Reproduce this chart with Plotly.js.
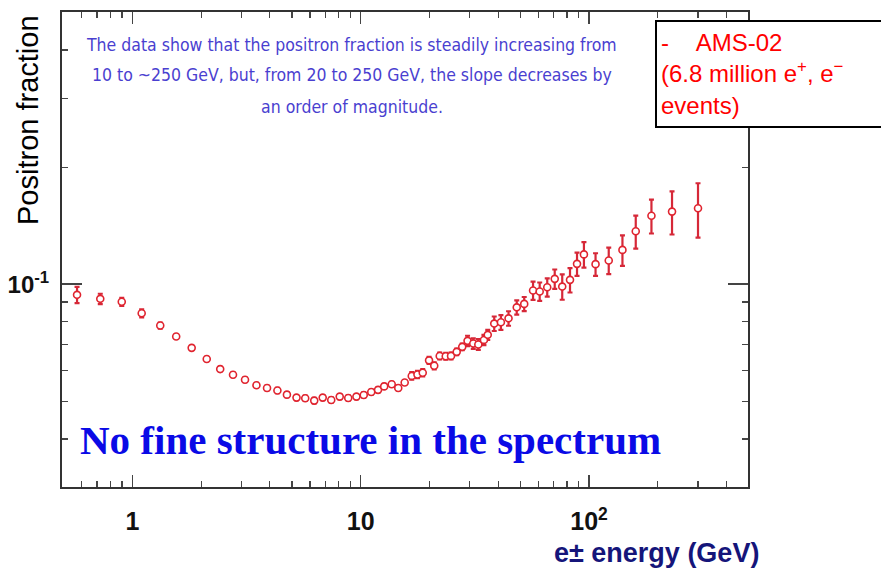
<!DOCTYPE html>
<html>
<head>
<meta charset="utf-8">
<script src="https://cdn.plot.ly/plotly-3.0.1.min.js"></script>
<style>html,body{margin:0;padding:0;background:#fff;}#chart{width:881px;height:568px;}</style>
</head>
<body>
<div id="chart"></div>
<script>
// Energy (GeV) of each AMS-02 bin
const energy = [0.572,0.723,0.898,1.098,1.324,1.555,1.818,2.116,2.424,2.758,3.113,3.493,3.887,4.316,4.751,5.233,5.713,6.256,6.816,7.427,8.091,8.815,9.576,10.31,11.12,11.91,12.67,13.67,14.60,15.58,16.73,17.72,18.69,19.92,20.99,22.18,23.57,24.86,26.33,27.84,29.37,31.12,32.74,34.65,36.01,38.44,41.12,44.41,48.24,52.02,56.86,60.81,65.61,70.76,76.32,82.55,88.60,94.99,106.8,122.0,140.1,160.2,187.7,231.0,300.2];
// Positron fraction
const fraction = [0.0939,0.0917,0.0901,0.0842,0.0783,0.0734,0.0686,0.0642,0.0605,0.0585,0.0568,0.0550,0.0541,0.0533,0.0520,0.0511,0.0509,0.0502,0.0511,0.0504,0.0514,0.0510,0.0514,0.0519,0.0528,0.0535,0.0546,0.0553,0.0541,0.0559,0.0581,0.0586,0.0592,0.0637,0.0617,0.0654,0.0653,0.0654,0.0670,0.0690,0.0715,0.0704,0.0700,0.0719,0.0741,0.0792,0.0798,0.0817,0.0872,0.0890,0.0963,0.0958,0.0982,0.1032,0.0986,0.1026,0.1128,0.1193,0.1126,0.1151,0.1225,0.1368,0.1500,0.1537,0.1568];
// Uncertainty of the fraction
const fractionErr = [0.0045,0.0028,0.0022,0.0020,0.0014,
  0.0008,0.0008,0.0008,0.0008,0.0008,0.0008,0.0008,0.0008,0.0008,0.0008,0.0008,0.0008,0.0008,0.0008,0.0008,0.0008,0.0008,0.0008,0.0008,0.0008,0.0008,0.0008,0.0008,0.0008,0.0008,
  0.0013,0.0013,0.0013,0.0013,0.0013,0.0013,0.0013,0.0013,0.0013,0.0013,
  0.0022,0.0022,0.0022,0.0022,0.0022,
  0.0034,0.0035,0.0035,0.0037,0.0037,
  0.0052,0.0052,0.0053,0.0059,0.0074,0.0074,0.0078,0.0090,0.0075,0.0090,0.0110,0.0133,0.0150,0.0195,0.0250];

// Axis ticks
const xMinorTicks = [0.6,0.7,0.8,0.9,2,3,4,5,6,7,8,9,20,30,40,50,60,70,80,90,200,300,400];
const xMajorTicks = [1,10,100];
const xMajorLabels = ['<b>1</b>','<b>10</b>','<b>10<sup>2</sup></b>'];
const yMinorTicks = [0.03,0.04,0.05,0.06,0.07,0.08,0.09,0.2,0.3,0.4,0.5];
const yMajorTicks = [0.1];
const yMajorLabels = ['<b>10<sup>-1</sup></b>'];

const noteLines = [
  'The data show that the positron fraction is steadily increasing from',
  '10 to ~250 GeV, but, from 20 to 250 GeV, the slope decreases by',
  'an order of magnitude.'
];
const legendText = '-&nbsp;&nbsp;&nbsp;&nbsp;AMS-02<br>(6.8 million e<sup>+</sup>, e<sup>\u2212</sup><br>events)';

const xRange = [Math.log10(0.4915), Math.log10(497)];
const yRange = [Math.log10(0.0301), Math.log10(0.501)];

const traces = [
  {
    x: energy, y: fraction, type: 'scatter', mode: 'markers',
    marker: {symbol: 'circle', size: 7, color: '#ffffff', line: {color: '#e0242f', width: 1.6}},
    error_y: {type: 'data', array: fractionErr, visible: true, color: '#d62838', thickness: 2.2, width: 2.5},
    showlegend: false, hoverinfo: 'x+y'
  },
  {x: [], y: [], xaxis: 'x2', yaxis: 'y2', type: 'scatter', mode: 'markers', showlegend: false}
];

const axLine = {showline: true, linecolor: '#333', linewidth: 2, showgrid: false, zeroline: false};
const noteFont = {family: 'Liberation Sans Narrow, DejaVu Sans Condensed, sans-serif', size: 17.5, color: '#4a3fd0'};

const layout = {
  width: 881, height: 568,
  margin: {l: 62, r: 133, t: 12, b: 81, pad: 0},
  paper_bgcolor: '#ffffff', plot_bgcolor: '#ffffff',
  showlegend: false,
  font: {family: 'Liberation Sans, Arial, sans-serif', color: '#000'},
  xaxis: Object.assign({}, axLine, {
    type: 'log', range: xRange, tickmode: 'array', tickvals: xMinorTicks,
    showticklabels: false, ticks: 'inside', ticklen: 6, tickwidth: 1.2, tickcolor: '#444', mirror: 'ticks'
  }),
  yaxis: Object.assign({}, axLine, {
    type: 'log', range: yRange, tickmode: 'array', tickvals: yMinorTicks,
    showticklabels: false, ticks: 'inside', ticklen: 6, tickwidth: 1.2, tickcolor: '#444', mirror: 'ticks'
  }),
  xaxis2: Object.assign({}, axLine, {
    type: 'log', range: xRange, overlaying: 'x', anchor: 'y2', side: 'bottom',
    tickmode: 'array', tickvals: xMajorTicks, ticktext: xMajorLabels,
    ticks: 'inside', ticklen: 12, tickwidth: 1.5, tickcolor: '#444', mirror: 'ticks',
    ticklabelstandoff: 11,
    tickfont: {family: 'Liberation Sans, Arial, sans-serif', size: 25, color: '#111'}
  }),
  yaxis2: Object.assign({}, axLine, {
    type: 'log', range: yRange, overlaying: 'y', anchor: 'x2', side: 'left',
    tickmode: 'array', tickvals: yMajorTicks, ticktext: yMajorLabels,
    ticks: 'inside', ticklen: 20, tickwidth: 1.5, tickcolor: '#444', mirror: 'ticks',
    ticklabelstandoff: 6,
    tickfont: {family: 'Liberation Sans, Arial, sans-serif', size: 24, color: '#111'}
  }),
  annotations: [
    {xref: 'paper', yref: 'paper', x: 0.4227, y: 0.9305, xanchor: 'center', yanchor: 'middle', showarrow: false,
     text: noteLines[0], font: noteFont},
    {xref: 'paper', yref: 'paper', x: 0.4227, y: 0.8674, xanchor: 'center', yanchor: 'middle', showarrow: false,
     text: noteLines[1], font: noteFont},
    {xref: 'paper', yref: 'paper', x: 0.4227, y: 0.80, xanchor: 'center', yanchor: 'middle', showarrow: false,
     text: noteLines[2], font: noteFont},
    {xref: 'paper', yref: 'paper', x: 0.8644, y: 0.9832, xanchor: 'left', yanchor: 'top', showarrow: false,
     text: legendText, align: 'left', valign: 'middle', width: 226, height: 96, borderpad: 4,
     bgcolor: '#ffffff', bordercolor: '#000', borderwidth: 2,
     font: {family: 'Liberation Sans, Arial, sans-serif', size: 24, color: '#ff0000'}},
    {xref: 'paper', yref: 'paper', x: -0.0496, y: 0.7726, xanchor: 'center', yanchor: 'middle', showarrow: false,
     textangle: -90, text: 'Positron fraction', font: {family: 'Liberation Sans, Arial, sans-serif', size: 29, color: '#000'}},
    {xref: 'paper', yref: 'paper', x: 0.0233, y: 0.099, xanchor: 'left', yanchor: 'middle', showarrow: false,
     text: '<b>No fine structure in the spectrum</b>', font: {family: 'Liberation Serif, Times New Roman, serif', size: 41, color: '#0a0ae6'}},
    {xref: 'paper', yref: 'paper', x: 0.867, y: -0.1390, xanchor: 'center', yanchor: 'middle', showarrow: false,
     text: '<b>e\u00b1 energy (GeV)</b>', font: {family: 'Liberation Sans, Arial, sans-serif', size: 27, color: '#15157a'}}
  ]
};

Plotly.newPlot('chart', traces, layout, {displayModeBar: false, staticPlot: true});
</script>
</body>
</html>
